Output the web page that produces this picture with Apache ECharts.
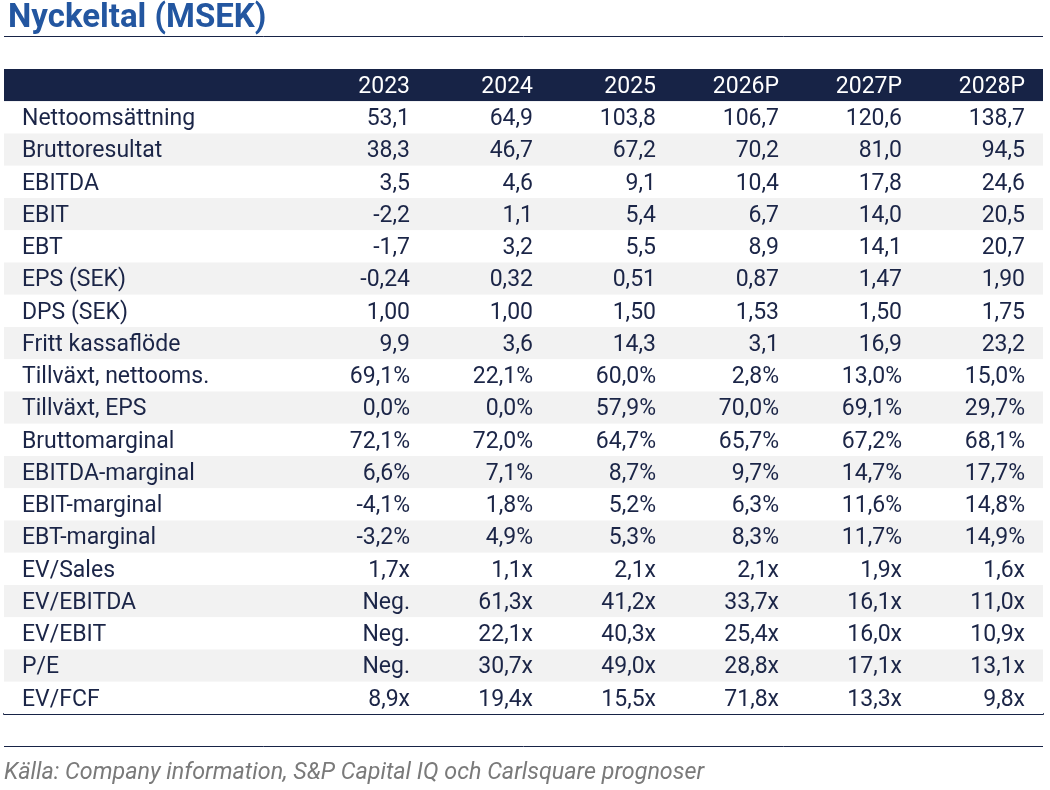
<!DOCTYPE html>
<html>
<head>
<meta charset="utf-8">
<title>Nyckeltal (MSEK)</title>
<script src="https://cdn.jsdelivr.net/npm/echarts@6/dist/echarts.min.js"></script>
<style>
  html, body { margin: 0; padding: 0; background: #fff; }
  #chart { width: 1050px; height: 790px; }
</style>
</head>
<body>
<div id="chart"></div>
<script>
// table content
const years = ['2023', '2024', '2025', '2026P', '2027P', '2028P']
const rowLabels = [
  'Nettoomsättning', 'Bruttoresultat', 'EBITDA', 'EBIT', 'EBT', 'EPS (SEK)', 'DPS (SEK)',
  'Fritt kassaflöde', 'Tillväxt, nettooms.', 'Tillväxt, EPS', 'Bruttomarginal',
  'EBITDA-marginal', 'EBIT-marginal', 'EBT-marginal', 'EV/Sales', 'EV/EBITDA',
  'EV/EBIT', 'P/E', 'EV/FCF'
]
const col2023 = ['53,1', '38,3', '3,5', '-2,2', '-1,7', '-0,24', '1,00', '9,9', '69,1%', '0,0%', '72,1%', '6,6%', '-4,1%', '-3,2%', '1,7x', 'Neg.', 'Neg.', 'Neg.', '8,9x']
const col2024 = ['64,9', '46,7', '4,6', '1,1', '3,2', '0,32', '1,00', '3,6', '22,1%', '0,0%', '72,0%', '7,1%', '1,8%', '4,9%', '1,1x', '61,3x', '22,1x', '30,7x', '19,4x']
const col2025 = ['103,8', '67,2', '9,1', '5,4', '5,5', '0,51', '1,50', '14,3', '60,0%', '57,9%', '64,7%', '8,7%', '5,2%', '5,3%', '2,1x', '41,2x', '40,3x', '49,0x', '15,5x']
const col2026 = ['106,7', '70,2', '10,4', '6,7', '8,9', '0,87', '1,53', '3,1', '2,8%', '70,0%', '65,7%', '9,7%', '6,3%', '8,3%', '2,1x', '33,7x', '25,4x', '28,8x', '71,8x']
const col2027 = ['120,6', '81,0', '17,8', '14,0', '14,1', '1,47', '1,50', '16,9', '13,0%', '69,1%', '67,2%', '14,7%', '11,6%', '11,7%', '1,9x', '16,1x', '16,0x', '17,1x', '13,3x']
const col2028 = ['138,7', '94,5', '24,6', '20,5', '20,7', '1,90', '1,75', '23,2', '15,0%', '29,7%', '68,1%', '17,7%', '14,8%', '14,9%', '1,6x', '11,0x', '10,9x', '13,1x', '9,8x']
const source = 'Källa: Company information, S&P Capital IQ och Carlsquare prognoser'

const columns = [col2023, col2024, col2025, col2026, col2027, col2028]
const NAVY = '#172346'
const TEXT = '#1b2547'
const FONT = 'Roboto'
const FS = 23

// row 0 is the header band
const rows = [''].concat(rowLabels)

const stripeData = rows.map((r, i) => [0, i])
const cellData = []
years.forEach((y, c) => {
  cellData.push([c, 0, y])
  columns[c].forEach((v, r) => cellData.push([c, r + 1, v]))
})

const chart = echarts.init(document.getElementById('chart'))

const option = {
  animation: false,
  title: {
    text: 'Nyckeltal (MSEK)',
    left: 3,
    top: -3,
    textStyle: { fontFamily: FONT, fontWeight: 'bold', fontSize: 33, color: '#2356a0' }
  },
  grid: [
    { left: 4, right: 7, top: 69, height: 645 },
    { left: 287, right: 25, top: 69, height: 645 }
  ],
  xAxis: [
    {
      gridIndex: 0, type: 'category', data: [''],
      axisLine: { show: true, lineStyle: { color: NAVY, width: 2 } },
      axisTick: { show: false }, axisLabel: { show: false }
    },
    {
      gridIndex: 1, type: 'category', data: years, show: false
    }
  ],
  yAxis: [
    {
      gridIndex: 0, type: 'category', data: rows, inverse: true,
      axisLine: { show: false }, axisTick: { show: false }, axisLabel: { show: false }
    },
    {
      gridIndex: 1, type: 'category', data: rows, inverse: true, show: false
    }
  ],
  series: [
    {
      // row bands and row titles
      type: 'custom',
      xAxisIndex: 0, yAxisIndex: 0,
      data: stripeData,
      silent: true,
      z: 1,
      renderItem: (params, api) => {
        const row = api.value(1)
        const pt = api.coord([0, row])
        const h = api.size([0, 1])[1]
        const fill = row === 0 ? NAVY : (row % 2 === 0 ? '#f2f2f2' : '#ffffff')
        return {
          type: 'group',
          children: [
            {
              type: 'rect',
              shape: { x: params.coordSys.x, y: pt[1] - h / 2, width: params.coordSys.width, height: h },
              style: { fill: fill }
            },
            {
              type: 'text',
              style: {
                x: params.coordSys.x + 18,
                y: pt[1] + 2,
                text: rows[row],
                textAlign: 'left',
                textVerticalAlign: 'middle',
                fill: TEXT,
                font: FS + 'px ' + FONT
              }
            }
          ]
        }
      }
    },
    {
      type: 'custom',
      xAxisIndex: 1, yAxisIndex: 1,
      data: cellData,
      silent: true,
      z: 3,
      renderItem: (params, api) => {
        const row = api.value(1)
        const pt = api.coord([api.value(0), row])
        const w = api.size([1, 0])[0]
        return {
          type: 'text',
          style: {
            x: pt[0] + w / 2,
            y: pt[1] + 2,
            text: cellData[params.dataIndex][2],
            textAlign: 'right',
            textVerticalAlign: 'middle',
            fill: row === 0 ? '#ffffff' : TEXT,
            font: FS + 'px ' + FONT
          }
        }
      }
    }
  ],
  graphic: [
    {
      type: 'line', silent: true,
      shape: { x1: 4, y1: 36.5, x2: 1043, y2: 36.5 },
      style: { stroke: NAVY, lineWidth: 1 }
    },
    {
      type: 'line', silent: true,
      shape: { x1: 4, y1: 746.5, x2: 1043, y2: 746.5 },
      style: { stroke: NAVY, lineWidth: 1 }
    },
    {
      type: 'text', silent: true,
      left: 4, top: 762,
      style: {
        text: source,
        fill: '#7a7a7a',
        font: 'italic 23.3px ' + FONT
      }
    }
  ]
}

chart.setOption(option)
</script>
</body>
</html>
